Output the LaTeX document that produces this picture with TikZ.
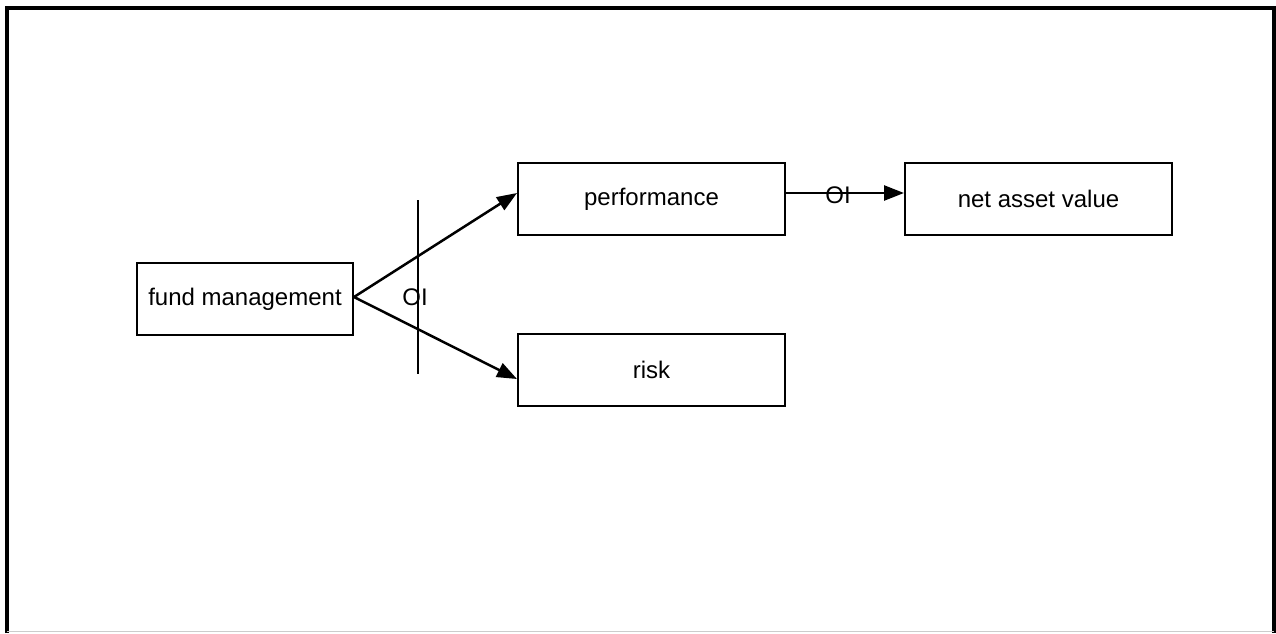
\documentclass[tikz,border=0pt]{standalone}
\usepackage{fontspec}
\setmainfont{Liberation Sans}
\usetikzlibrary{arrows.meta}
\begin{document}
\begin{tikzpicture}[x=1pt,y=-1pt,
  box/.style={draw,line width=2pt,minimum width=267pt,minimum height=72pt,inner sep=0pt,
    font=\fontsize{24}{28}\selectfont},
  link/.style={line width=2.5pt,-{Triangle[length=20pt,width=15pt]}},
  tag/.style={inner sep=0pt,font=\fontsize{24}{28}\selectfont}]
\useasboundingbox (0,0) rectangle (1276,633);
% page frame
\draw[line width=4pt] (7,633) -- (7,8) -- (1274,8) -- (1274,633);
\draw[line width=1pt,black!20] (7,631.5) -- (1274,631.5);
% boxes
\node[box,minimum width=216pt] (fund) at (245,299) {fund management};
\node[box] (perf) at (651.5,199) {performance};
\node[box] (nav) at (1038.5,199) {net asset value};
\node[box] (risk) at (651.5,370) {risk};
% connectors
\coordinate (split) at ([yshift=2pt]fund.east);
\draw[link] (split) -- ([yshift=6pt]perf.west);
\draw[link] (split) -- ([yshift=-9pt]risk.west);
\draw[link] ([yshift=6pt]perf.east) -- ([yshift=6pt]nav.west);
% cut line across the two branches
\coordinate (cuttop) at (417.5,200);
\coordinate (cutbot) at (417.5,374);
\draw[line width=2pt] (cuttop) -- (cutbot);
\node[tag] (oi1) at (415,297) {OI};
\node[tag] (oi2) at (838,195) {OI};
\end{tikzpicture}
\end{document}
